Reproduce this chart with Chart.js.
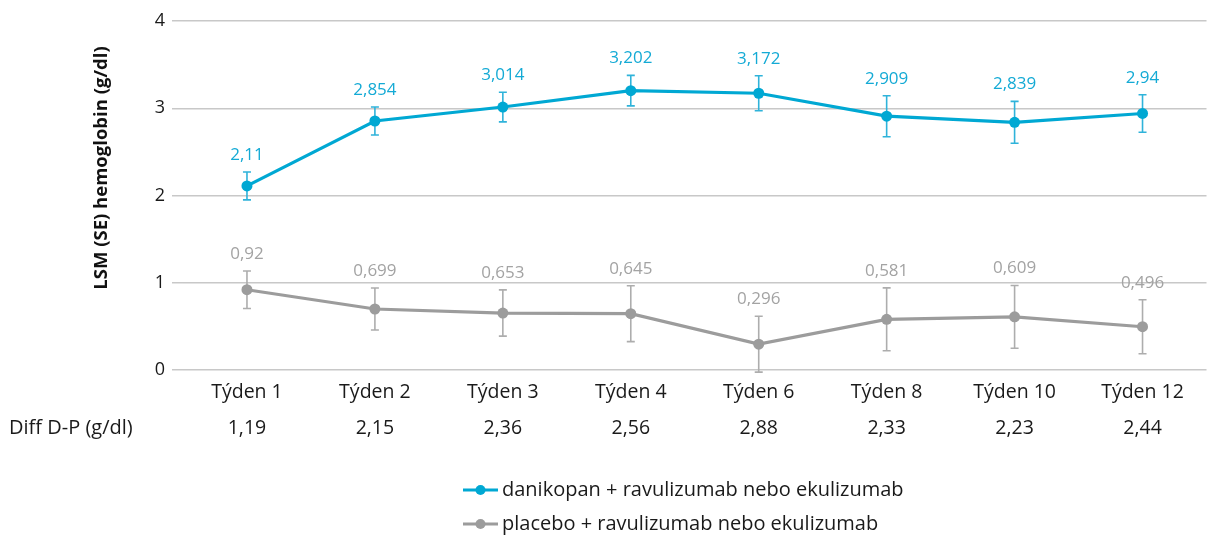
<!DOCTYPE html>
<html><head><meta charset="utf-8">
<script src="https://cdn.jsdelivr.net/npm/chart.js@4/dist/chart.umd.min.js"></script>
<style>html,body{margin:0;padding:0;background:#fff;}</style>
</head><body>
<canvas id="c" width="1212" height="535"></canvas>
<script>
const categories = ['Týden 1','Týden 2','Týden 3','Týden 4','Týden 6','Týden 8','Týden 10','Týden 12'];
const danikopan = [2.11, 2.854, 3.014, 3.202, 3.172, 2.909, 2.839, 2.94];
const danikopanSE = [0.16, 0.16, 0.17, 0.175, 0.2, 0.235, 0.24, 0.215];
const placebo = [0.92, 0.699, 0.653, 0.645, 0.296, 0.581, 0.609, 0.496];
const placeboSE = [0.215, 0.24, 0.265, 0.32, 0.32, 0.36, 0.36, 0.31];
const diffDP = ['1,19','2,15','2,36','2,56','2,88','2,33','2,23','2,44'];
const diffLabel = 'Diff D-P (g/dl)';
const yTitle = 'LSM (SE) hemoglobin (g/dl)';
const yTicks = [0, 1, 2, 3, 4];
const seriesNames = ['danikopan + ravulizumab nebo ekulizumab', 'placebo + ravulizumab nebo ekulizumab'];

const FONT = '"Open Sans", "Noto Sans", sans-serif';
const TEXT = '#1a1a1a';
const BLUE = '#00a8d3';
const BLUE_ERR = '#2fb3da';
const BLUE_LBL = '#14aad5';
const GRAY = '#9c9c9c';
const GRAY_ERR = '#adadad';
const GRAY_LBL = '#a3a3a3';
const fmt = v => String(v).replace('.', ',');

const extras = {
  id: 'extras',
  beforeDatasetsDraw(chart) {
    const ctx = chart.ctx, y = chart.scales.y;
    chart.data.datasets.forEach((ds, di) => {
      const meta = chart.getDatasetMeta(di);
      ctx.save();
      ctx.strokeStyle = ds.errColor;
      ctx.lineWidth = 1.6;
      meta.data.forEach((pt, i) => {
        const v = ds.data[i], se = ds.se[i];
        const yt = y.getPixelForValue(v + se), yb = y.getPixelForValue(v - se);
        ctx.beginPath();
        ctx.moveTo(pt.x, yt); ctx.lineTo(pt.x, yb);
        ctx.moveTo(pt.x - 4, yt); ctx.lineTo(pt.x + 4, yt);
        ctx.moveTo(pt.x - 4, yb); ctx.lineTo(pt.x + 4, yb);
        ctx.stroke();
      });
      ctx.restore();
    });
  },
  afterDatasetsDraw(chart) {
    const ctx = chart.ctx, y = chart.scales.y;
    chart.data.datasets.forEach((ds, di) => {
      const meta = chart.getDatasetMeta(di);
      ctx.save();
      ctx.fillStyle = ds.labelColor;
      ctx.font = '17px ' + FONT;
      ctx.textAlign = 'center';
      ctx.textBaseline = 'middle';
      meta.data.forEach((pt, i) => {
        const v = ds.data[i], se = ds.se[i];
        const yt = y.getPixelForValue(v + se);
        ctx.fillText(fmt(v), pt.x, yt - 17);
      });
      ctx.restore();
    });
  },
  afterDraw(chart) {
    const ctx = chart.ctx, x = chart.scales.x;
    ctx.save();
    // y axis title
    ctx.save();
    ctx.translate(102, 168);
    ctx.rotate(-Math.PI / 2);
    ctx.fillStyle = '#111';
    ctx.font = 'bold 18.5px ' + FONT;
    ctx.textAlign = 'center';
    ctx.textBaseline = 'middle';
    ctx.fillText(yTitle, 0, 0);
    ctx.restore();
    // diff row
    ctx.fillStyle = TEXT;
    ctx.font = '20px ' + FONT;
    ctx.textBaseline = 'middle';
    ctx.textAlign = 'left';
    ctx.fillText(diffLabel, 9, 428);
    ctx.font = '19.5px ' + FONT;
    ctx.textAlign = 'center';
    diffDP.forEach((d, i) => ctx.fillText(d, x.getPixelForValue(i), 428));
    // legend
    ctx.font = '20px ' + FONT;
    const lx = 463, rows = [490, 524];
    chart.data.datasets.forEach((ds, di) => {
      const yy = rows[di];
      ctx.strokeStyle = ds.borderColor;
      ctx.lineWidth = 3;
      ctx.beginPath(); ctx.moveTo(lx, yy); ctx.lineTo(lx + 35, yy); ctx.stroke();
      ctx.fillStyle = ds.borderColor;
      ctx.beginPath(); ctx.arc(lx + 17.5, yy, 5, 0, Math.PI * 2); ctx.fill();
      ctx.fillStyle = TEXT;
      ctx.textAlign = 'left';
      ctx.fillText(ds.label, lx + 39, yy);
    });
    ctx.restore();
  }
};

new Chart(document.getElementById('c'), {
  type: 'line',
  data: {
    labels: categories,
    datasets: [
      { label: seriesNames[0], data: danikopan, se: danikopanSE, borderColor: BLUE, backgroundColor: BLUE,
        errColor: BLUE_ERR, labelColor: BLUE_LBL, borderWidth: 3.2, pointRadius: 5.5, pointHoverRadius: 5.5,
        pointBackgroundColor: BLUE, pointBorderWidth: 0, tension: 0 },
      { label: seriesNames[1], data: placebo, se: placeboSE, borderColor: GRAY, backgroundColor: GRAY,
        errColor: GRAY_ERR, labelColor: GRAY_LBL, borderWidth: 3.2, pointRadius: 5.5, pointHoverRadius: 5.5,
        pointBackgroundColor: GRAY, pointBorderWidth: 0, tension: 0 }
    ]
  },
  options: {
    responsive: false,
    animation: false,
    events: [],
    layout: { padding: { top: 21, right: 0, bottom: 0, left: 0 } },
    plugins: { legend: { display: false }, tooltip: { enabled: false } },
    scales: {
      x: {
        offset: true,
        grid: { display: false, drawTicks: false },
        border: { display: false },
        ticks: { color: TEXT, font: { family: FONT, size: 19.5 }, padding: 11, maxRotation: 0, autoSkip: false },
        afterFit: s => { s.height = 165; }
      },
      y: {
        min: 0, max: 4,
        afterBuildTicks: s => { s.ticks = yTicks.map(v => ({ value: v })); },
        ticks: { color: TEXT, font: { family: FONT, size: 18 }, padding: 7 },
        grid: { color: '#c8c8c8', lineWidth: 1.5, tickLength: 11, drawTicks: true },
        border: { display: false },
        title: { display: false },
        afterFit: s => { s.width = 183; }
      }
    }
  },
  plugins: [extras]
});
</script>
</body></html>
